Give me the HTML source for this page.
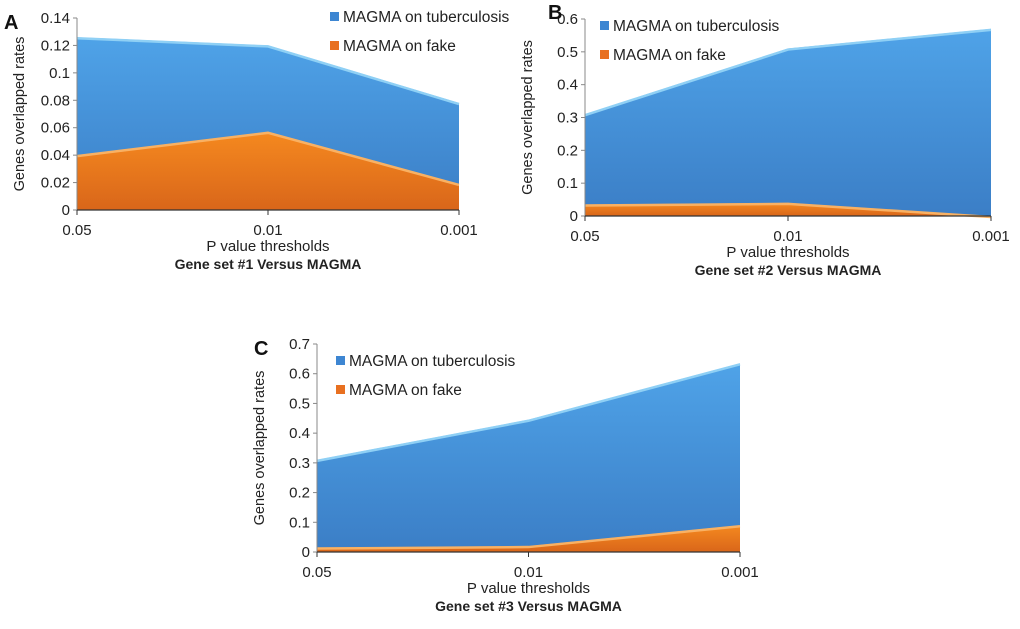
<!DOCTYPE html>
<html><head><meta charset="utf-8">
<style>
body{margin:0;background:#fff;width:1020px;height:624px;overflow:hidden}
svg{font-family:"Liberation Sans",Arial,sans-serif}
</style></head><body>
<svg id="fig" width="1020" height="624" xmlns="http://www.w3.org/2000/svg">
<defs>
<linearGradient id="gb" x1="0" y1="0" x2="0" y2="1"><stop offset="0" stop-color="#4fa3e8"/><stop offset="1" stop-color="#3b7ec6"/></linearGradient>
<linearGradient id="go" x1="0" y1="0" x2="0" y2="1"><stop offset="0" stop-color="#f5891f"/><stop offset="1" stop-color="#d9661a"/></linearGradient>
</defs>
</svg>
<script>
const categories=["0.05","0.01","0.001"];
const blueA=[0.126,0.120,0.078];
const orangeA=[0.040,0.057,0.019];
const ticksA=["0","0.02","0.04","0.06","0.08","0.1","0.12","0.14"];
const blueB=[0.31,0.51,0.57];
const orangeB=[0.035,0.04,0.0];
const ticksB=["0","0.1","0.2","0.3","0.4","0.5","0.6"];
const blueC=[0.31,0.445,0.635];
const orangeC=[0.015,0.02,0.09];
const ticksC=["0","0.1","0.2","0.3","0.4","0.5","0.6","0.7"];

const NS="http://www.w3.org/2000/svg";
const svg=document.getElementById('fig');
function mk(tag,attrs,parent,text){const e=document.createElementNS(NS,tag);for(const k in attrs)e.setAttribute(k,attrs[k]);if(text!==undefined)e.textContent=text;(parent||svg).appendChild(e);return e;}

function panel(id,letter,lx,ly,x0,x1,y0,yTop,ticks,blue,orange,title,legX,legY){
  const g=mk('g',{});
  
  
  const ymax=parseFloat(ticks[ticks.length-1]);
  const sx=i=>x0+(x1-x0)*i/(categories.length-1);
  const sy=v=>y0-(y0-yTop)*v/ymax;
  function area(vals,fill,edge,name){
    let d='M'+sx(0)+','+y0;
    vals.forEach((v,i)=>{d+=' L'+sx(i)+','+sy(v);});
    d+=' L'+sx(vals.length-1)+','+y0+' Z';
    const p=mk('path',{d:d,fill:fill},g);
    
    
    let l='';vals.forEach((v,i)=>{l+=(i?' L':'M')+sx(i)+','+(sy(v)+1);});
    mk('path',{d:l,fill:'none',stroke:edge,'stroke-width':2.5},g);
  }
  area(blue,'url(#gb)','#8fd0f5','tuberculosis');
  area(orange,'url(#go)','#f9b163','fake');
  const ya=mk('line',{x1:x0,y1:yTop,x2:x0,y2:y0,stroke:'#888','stroke-width':1},g);
  
  
  const xa=mk('line',{x1:x0,y1:y0,x2:x1,y2:y0,stroke:'#333','stroke-width':1.2},g);
  
  
  ticks.forEach((t,i)=>{
    const y=sy(parseFloat(t));
    mk('line',{x1:x0-4,y1:y,x2:x0,y2:y,stroke:'#888'},g);
    const tx=mk('text',{x:x0-7,y:y+5,'text-anchor':'end','font-size':15,fill:'#222'},g,t);
    
    
  });
  categories.forEach((c,i)=>{
    mk('line',{x1:sx(i),y1:y0,x2:sx(i),y2:y0+5,stroke:'#333'},g);
    const tx=mk('text',{x:sx(i),y:y0+25,'text-anchor':'middle','font-size':15,fill:'#222'},g,c);
    
    
  });
  const xt=mk('text',{x:(x0+x1)/2,y:y0+41,'text-anchor':'middle','font-size':15,fill:'#222'},g,'P value thresholds');
  
  
  const tt=mk('text',{x:(x0+x1)/2,y:y0+59,'text-anchor':'middle','font-size':14,'font-weight':'bold',fill:'#222'},g,title);
  
  
  const ytl=mk('text',{x:0,y:0,'text-anchor':'middle','font-size':14.5,fill:'#222',transform:'translate('+(x0-53)+','+((y0+yTop)/2)+') rotate(-90)'},g,'Genes overlapped rates');
  
  
  const lt=mk('text',{x:lx,y:ly,'font-size':20,'font-weight':'bold',fill:'#111'},g,letter);
  
  
  [['MAGMA on tuberculosis','#3d86d2'],['MAGMA on fake','#e87020']].forEach((e,i)=>{
    const lg=mk('g',{},g);
    
    
    mk('rect',{x:legX,y:legY+i*29-10,width:9,height:9,fill:e[1]},lg);
    mk('text',{x:legX+13,y:legY+i*29,'font-size':15.5,fill:'#222'},lg,e[0]);
  });
}
panel('a','A',4,29,77,459,210,18,ticksA,blueA,orangeA,'Gene set #1 Versus MAGMA',330,22);
panel('b','B',548,19,585,991,216,19,ticksB,blueB,orangeB,'Gene set #2 Versus MAGMA',600,31);
panel('c','C',254,355,317,740,552,344,ticksC,blueC,orangeC,'Gene set #3 Versus MAGMA',336,366);
</script>
</body></html>
